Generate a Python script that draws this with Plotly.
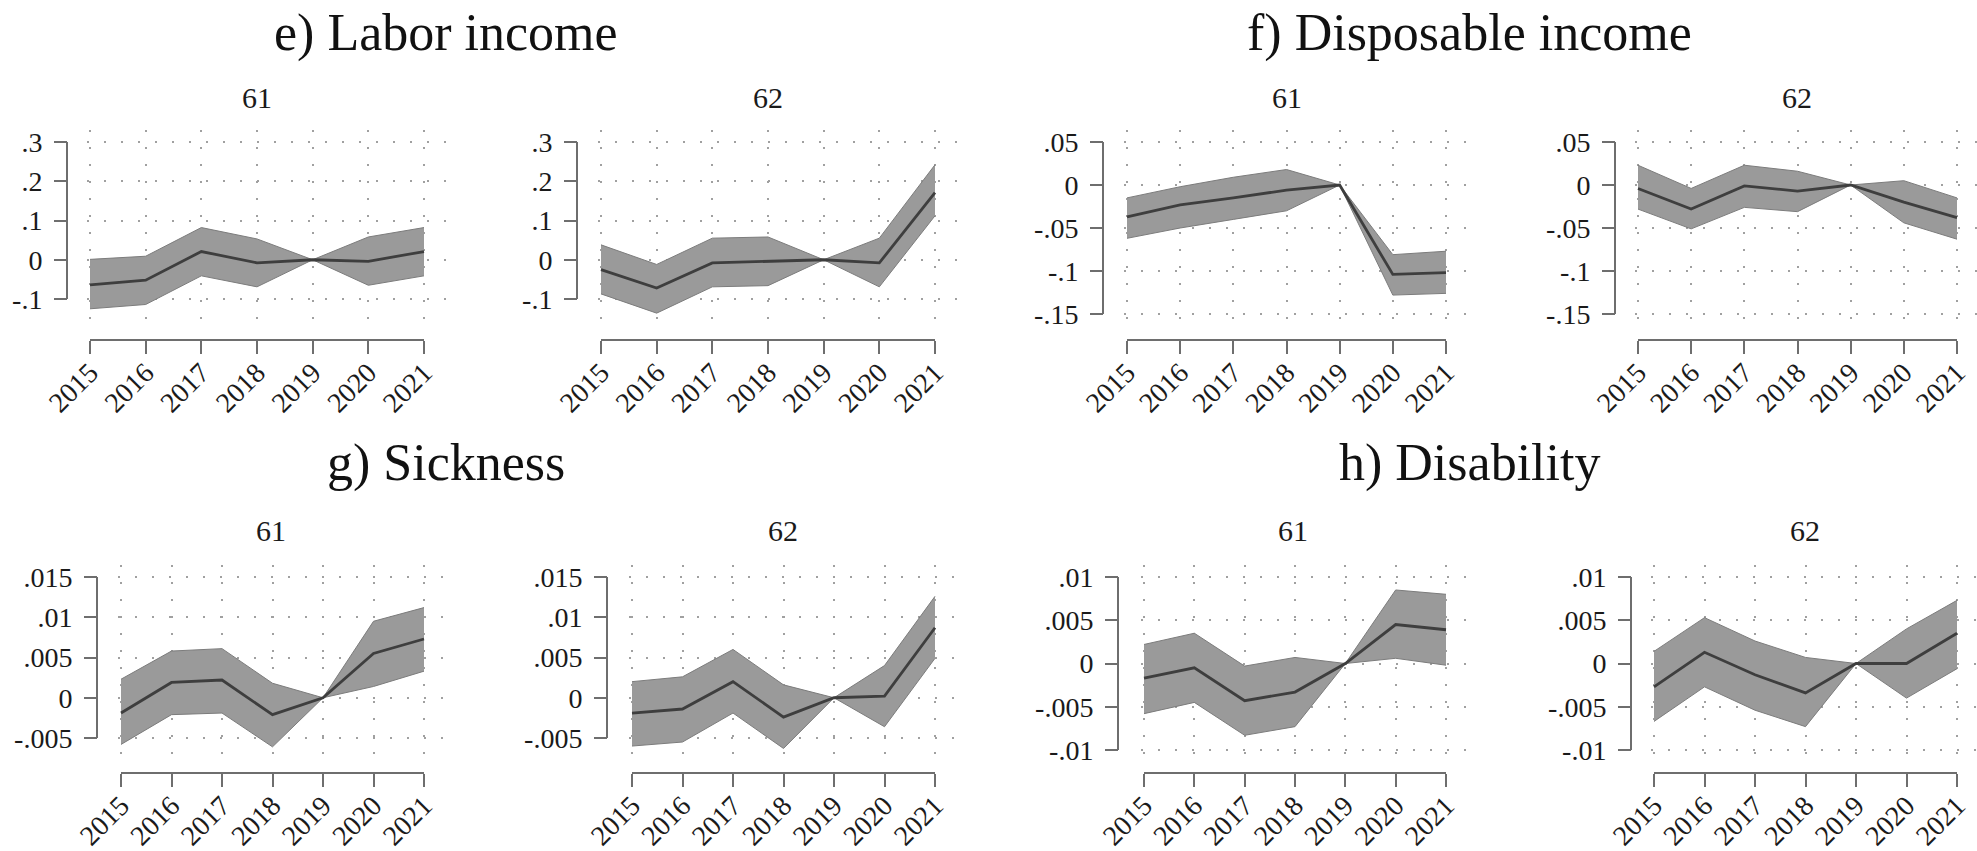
import plotly.graph_objects as go

# ---------------- data ----------------
years = [2015, 2016, 2017, 2018, 2019, 2020, 2021]
year_labels = [str(y) for y in years]

# e) Labor income
labor_61_est = [-0.064, -0.052, 0.021, -0.008, 0.0, -0.004, 0.021]
labor_61_hi = [0.001, 0.009, 0.082, 0.053, 0.0, 0.058, 0.082]
labor_61_lo = [-0.125, -0.114, -0.041, -0.069, 0.0, -0.065, -0.041]
labor_62_est = [-0.025, -0.072, -0.008, -0.004, 0.0, -0.008, 0.171]
labor_62_hi = [0.038, -0.012, 0.055, 0.058, 0.0, 0.055, 0.242]
labor_62_lo = [-0.087, -0.136, -0.069, -0.066, 0.0, -0.069, 0.112]

# f) Disposable income
disp_61_est = [-0.037, -0.023, -0.015, -0.006, 0.0, -0.104, -0.102]
disp_61_hi = [-0.015, -0.002, 0.009, 0.018, 0.0, -0.081, -0.077]
disp_61_lo = [-0.062, -0.050, -0.040, -0.030, 0.0, -0.128, -0.126]
disp_62_est = [-0.004, -0.028, -0.001, -0.007, 0.0, -0.020, -0.038]
disp_62_hi = [0.023, -0.004, 0.023, 0.016, 0.0, 0.005, -0.015]
disp_62_lo = [-0.028, -0.051, -0.026, -0.031, 0.0, -0.044, -0.063]

# g) Sickness
sick_61_est = [-0.0019, 0.0019, 0.0022, -0.0021, 0.0, 0.0055, 0.0073]
sick_61_hi = [0.0023, 0.0058, 0.0061, 0.0018, 0.0, 0.0095, 0.0112]
sick_61_lo = [-0.0058, -0.0021, -0.0019, -0.0061, 0.0, 0.0014, 0.0033]
sick_62_est = [-0.0019, -0.0014, 0.0020, -0.0024, 0.0, 0.0002, 0.0087]
sick_62_hi = [0.0020, 0.0026, 0.0060, 0.0016, 0.0, 0.0040, 0.0126]
sick_62_lo = [-0.0060, -0.0055, -0.0019, -0.0063, 0.0, -0.0036, 0.0049]

# h) Disability
disab_61_est = [-0.0017, -0.0005, -0.0043, -0.0033, 0.0, 0.0045, 0.0039]
disab_61_hi = [0.0022, 0.0035, -0.0003, 0.0007, 0.0, 0.0085, 0.0080]
disab_61_lo = [-0.0058, -0.0045, -0.0083, -0.0073, 0.0, 0.0006, -0.0002]
disab_62_est = [-0.0027, 0.0013, -0.0013, -0.0034, 0.0, 0.0, 0.0035]
disab_62_hi = [0.0014, 0.0053, 0.0026, 0.0007, 0.0, 0.0040, 0.0073]
disab_62_lo = [-0.0067, -0.0027, -0.0054, -0.0073, 0.0, -0.0040, -0.0006]

# y-axis ticks
labor_ticks = [-0.1, 0, 0.1, 0.2, 0.3]
labor_labels = ["-.1", "0", ".1", ".2", ".3"]
disp_ticks = [-0.15, -0.1, -0.05, 0, 0.05]
disp_labels = ["-.15", "-.1", "-.05", "0", ".05"]
sick_ticks = [-0.005, 0, 0.005, 0.01, 0.015]
sick_labels = ["-.005", "0", ".005", ".01", ".015"]
disab_ticks = [-0.01, -0.005, 0, 0.005, 0.01]
disab_labels = ["-.01", "-.005", "0", ".005", ".01"]

group_titles = ["e) Labor income", "f) Disposable income", "g) Sickness", "h) Disability"]
ages = ["61", "62"]

# ---------------- layout geometry (pixels) ----------------
W, H = 1977, 851
FONT = "Liberation Serif, Times New Roman, serif"
TXT = "#1a1a1a"
AXC = "#6e6e6e"
GRIDC = "#a0a0a0"
FILLC = "rgb(154,154,154)"
EDGEC = "#7c7c7c"
LINEC = "#3e3e3e"
TICKFONT = 28

row_geom = {
    1: dict(top=130, bottom=322, xline=340, sub_y=97, title_y=33),
    2: dict(top=565, bottom=757, xline=773, sub_y=530, title_y=463),
}

panels = [
    dict(row=1, est=labor_61_est, lo=labor_61_lo, hi=labor_61_hi, ticks=labor_ticks, labels=labor_labels,
         x0=87, x1=447, p0=90, p1=424, yl=67, tt=142, tb=299, sx=257, age=ages[0]),
    dict(row=1, est=labor_62_est, lo=labor_62_lo, hi=labor_62_hi, ticks=labor_ticks, labels=labor_labels,
         x0=598, x1=957, p0=601, p1=935, yl=577, tt=142, tb=299, sx=768, age=ages[1]),
    dict(row=1, est=disp_61_est, lo=disp_61_lo, hi=disp_61_hi, ticks=disp_ticks, labels=disp_labels,
         x0=1124, x1=1466, p0=1127, p1=1446, yl=1103, tt=142, tb=314, sx=1287, age=ages[0]),
    dict(row=1, est=disp_62_est, lo=disp_62_lo, hi=disp_62_hi, ticks=disp_ticks, labels=disp_labels,
         x0=1635, x1=1977, p0=1638, p1=1957, yl=1615, tt=142, tb=314, sx=1797, age=ages[1]),
    dict(row=2, est=sick_61_est, lo=sick_61_lo, hi=sick_61_hi, ticks=sick_ticks, labels=sick_labels,
         x0=118, x1=447, p0=121, p1=424, yl=97, tt=577, tb=738, sx=271, age=ages[0]),
    dict(row=2, est=sick_62_est, lo=sick_62_lo, hi=sick_62_hi, ticks=sick_ticks, labels=sick_labels,
         x0=629, x1=957, p0=632, p1=935, yl=607, tt=577, tb=738, sx=783, age=ages[1]),
    dict(row=2, est=disab_61_est, lo=disab_61_lo, hi=disab_61_hi, ticks=disab_ticks, labels=disab_labels,
         x0=1141, x1=1466, p0=1144, p1=1446, yl=1118, tt=577, tb=750, sx=1293, age=ages[0]),
    dict(row=2, est=disab_62_est, lo=disab_62_lo, hi=disab_62_hi, ticks=disab_ticks, labels=disab_labels,
         x0=1651, x1=1977, p0=1654, p1=1957, yl=1631, tt=577, tb=750, sx=1805, age=ages[1]),
]

title_pos = [(446, 1), (1469, 1), (446, 2), (1469, 2)]


def fx(p):
    return p / W


def fy(p):
    return 1 - p / H


fig = go.Figure()
layout = dict(
    width=W, height=H,
    margin=dict(l=0, r=0, t=0, b=0),
    paper_bgcolor="white", plot_bgcolor="white",
    showlegend=False,
    font=dict(family=FONT, color=TXT),
)
shapes = []
annotations = []

for i, p in enumerate(panels, start=1):
    rg = row_geom[p["row"]]
    xname = "x" if i == 1 else f"x{i}"
    yname = "y" if i == 1 else f"y{i}"
    xkey = "xaxis" if i == 1 else f"xaxis{i}"
    ykey = "yaxis" if i == 1 else f"yaxis{i}"

    s = (p["p1"] - p["p0"]) / (years[-1] - years[0])
    xr = [years[0] - (p["p0"] - p["x0"]) / s, years[-1] + (p["x1"] - p["p1"]) / s]
    tmin, tmax = min(p["ticks"]), max(p["ticks"])
    sy = (p["tb"] - p["tt"]) / (tmax - tmin)
    yr = [tmin - (rg["bottom"] - p["tb"]) / sy, tmax + (p["tt"] - rg["top"]) / sy]

    layout[xkey] = dict(
        domain=[fx(p["x0"]), fx(p["x1"])], range=xr, anchor="free",
        position=fy(rg["xline"]), showline=False, zeroline=False,
        tickmode="array", tickvals=years, ticktext=year_labels, tickangle=-45,
        ticks="outside", ticklen=13, tickwidth=2, tickcolor=AXC,
        ticklabelstandoff=-9,
        tickfont=dict(family=FONT, size=TICKFONT, color=TXT),
        showgrid=True, gridcolor=GRIDC, gridwidth=2, griddash="2px,15px",
        fixedrange=True, automargin=False,
    )
    layout[ykey] = dict(
        domain=[fy(rg["bottom"]), fy(rg["top"])], range=yr, anchor="free",
        position=fx(p["yl"]), showline=False, zeroline=False,
        tickmode="array", tickvals=p["ticks"], ticktext=p["labels"],
        ticks="outside", ticklen=13, tickwidth=2, tickcolor=AXC,
        ticklabelstandoff=6,
        tickfont=dict(family=FONT, size=TICKFONT, color=TXT),
        showgrid=True, gridcolor=GRIDC, gridwidth=2, griddash="2px,15px",
        fixedrange=True, automargin=False,
    )

    # confidence band
    fig.add_trace(go.Scatter(x=years, y=p["lo"], mode="lines", xaxis=xname, yaxis=yname,
                             line=dict(color=EDGEC, width=1), hoverinfo="skip"))
    fig.add_trace(go.Scatter(x=years, y=p["hi"], mode="lines", xaxis=xname, yaxis=yname,
                             line=dict(color=EDGEC, width=1), fill="tonexty", fillcolor=FILLC,
                             hoverinfo="skip"))
    # point estimate
    fig.add_trace(go.Scatter(x=years, y=p["est"], mode="lines", xaxis=xname, yaxis=yname,
                             line=dict(color=LINEC, width=2.8)))

    # Stata-style axis lines spanning only the tick range
    shapes.append(dict(type="line", xref=xname, yref="paper", x0=years[0], x1=years[-1],
                       y0=fy(rg["xline"]), y1=fy(rg["xline"]), line=dict(color=AXC, width=2)))
    shapes.append(dict(type="line", xref="paper", yref=yname, x0=fx(p["yl"]), x1=fx(p["yl"]),
                       y0=tmin, y1=tmax, line=dict(color=AXC, width=2)))

    annotations.append(dict(text=p["age"], xref="paper", yref="paper", x=fx(p["sx"]), y=fy(rg["sub_y"]),
                            xanchor="center", yanchor="middle", showarrow=False,
                            font=dict(family=FONT, size=30, color=TXT)))

for t, (cx, r) in zip(group_titles, title_pos):
    annotations.append(dict(text=t, xref="paper", yref="paper", x=fx(cx), y=fy(row_geom[r]["title_y"]),
                            xanchor="center", yanchor="middle", showarrow=False,
                            font=dict(family=FONT, size=52, color="#111111")))

layout["shapes"] = shapes
layout["annotations"] = annotations
fig.update_layout(**layout)

fig.write_html("out.html")
